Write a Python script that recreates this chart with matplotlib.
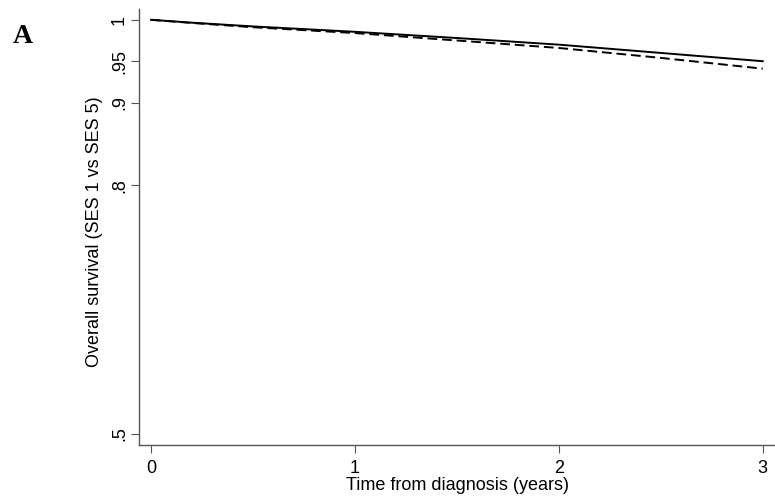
import numpy as np
import matplotlib.pyplot as plt

# survival curves
years = [0, 0.2, 0.5, 1, 1.5, 2, 2.5, 3]
ses1 = [1.0, 0.9965, 0.992, 0.9855, 0.978, 0.970, 0.960, 0.950]
ses5 = [1.0, 0.9962, 0.991, 0.9840, 0.975, 0.966, 0.954, 0.941]

yticks = [0.5, 0.8, 0.9, 0.95, 1]
ylabels = ['.5', '.8', '.9', '.95', '1']
xticks = [0, 1, 2, 3]

plt.rcParams['font.family'] = ['Liberation Sans', 'DejaVu Sans']

fig = plt.figure(figsize=(7.75, 4.96), dpi=100)
ax = fig.add_axes([0.1794, 0.1028, 0.8206, 0.879])

ax.plot(years, ses1, color='black', lw=1.4, linestyle='-')
ax.plot(years, ses5, color='black', lw=1.4, linestyle=(0, (5, 2.5)))

ax.set_xlim(-0.059, 3.06)
ax.set_ylim(0.4867, 1.013)
ax.set_xticks(xticks)
ax.set_xticklabels([str(t) for t in xticks], fontsize=13)
ax.set_yticks(yticks)
ax.set_yticklabels(ylabels, fontsize=13, rotation=90, va='center')
ax.tick_params(direction='out', length=6, width=0.8, color='#555555')
ax.tick_params(axis='x', pad=5)
ax.tick_params(axis='y', pad=2)

for s in ['top', 'right']:
    ax.spines[s].set_visible(False)
for s in ['left', 'bottom']:
    ax.spines[s].set_color('#555555')
    ax.spines[s].set_linewidth(1.0)

ax.set_xlabel('Time from diagnosis (years)', fontsize=13, labelpad=0)
ax.set_ylabel('Overall survival (SES 1 vs SES 5)', fontsize=13)
ax.yaxis.set_label_coords(-0.056, 0.49)

fig.text(0.016, 0.913, 'A', fontsize=20, fontweight='bold',
         family='Liberation Serif', va='baseline')

fig.savefig('out.png', dpi=100)
